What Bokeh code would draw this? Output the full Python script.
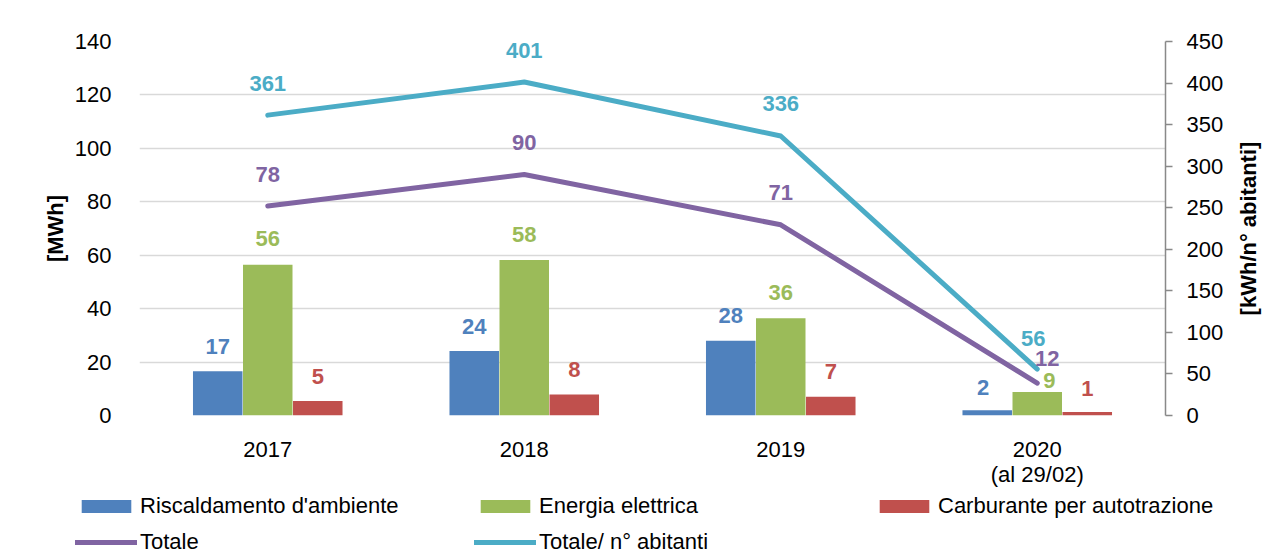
import math
from bokeh.plotting import figure
from bokeh.layouts import row
from bokeh.models import (ColumnDataSource, FactorRange, Range1d, LinearAxis,
                          FixedTicker, Legend, LegendItem, LabelSet, Title)
from bokeh.transform import dodge
from bokeh.core.properties import value
from bokeh.embed import file_html
from bokeh.resources import INLINE

# ---------------- data ----------------
categories = ["2017", "2018", "2019", "2020\n(al 29/02)"]
riscaldamento = [16.6, 24.1, 28.0, 2.0]        # MWh
energia = [56.4, 58.2, 36.4, 8.8]              # MWh
carburante = [5.4, 7.9, 7.0, 1.3]              # MWh
totale = [78.4, 90.2, 71.4, 12.1]              # MWh
totale_abitanti = [361.4, 401.2, 336.3, 55.8]  # kWh / n° abitanti
left_ticks = [0, 20, 40, 60, 80, 100, 120, 140]
right_ticks = [0, 50, 100, 150, 200, 250, 300, 350, 400, 450]

series_names = ["Riscaldamento d'ambiente", "Energia elettrica",
                "Carburante per autotrazione", "Totale", "Totale/ n° abitanti"]
left_title = "[MWh]"
right_title = "[kWh/n° abitanti]"

# ---------------- style ----------------
BLUE, GREEN, RED, PURPLE, CYAN = "#4F81BD", "#9BBB59", "#C0504D", "#8064A2", "#4BACC6"
FONT = "Liberation Sans"
FS = "22px"
BAR_W = 0.193
BAR_STEP = 0.195
W_MAIN, W_SIDE = 1232, 44
H_MAIN = 490

# label offsets (screen px): default above mark, last category adjusted
bar_dx = {"r": [0, 0, 0, -4], "e": [0, 0, 0, 12], "c": [0, 0, 0, 0]}
bar_dy = {"r": [25, 25, 25, 23], "e": [26, 26, 26, 11], "c": [25, 25, 25, 24]}
line_dx = {"t": [0, 0, 0, 10], "a": [0, 0, 0, -4]}
line_dy = {"t": [32, 32, 32, 25], "a": [32, 32, 32, 31]}

fmt = lambda vals: ["{:.0f}".format(v) for v in vals]

src = ColumnDataSource(dict(
    cat=categories, r=riscaldamento, e=energia, c=carburante,
    t=totale, a=totale_abitanti,
    r_txt=fmt(riscaldamento), e_txt=fmt(energia), c_txt=fmt(carburante),
    t_txt=fmt(totale), a_txt=fmt(totale_abitanti),
    r_dx=bar_dx["r"], r_dy=bar_dy["r"], e_dx=bar_dx["e"], e_dy=bar_dy["e"],
    c_dx=bar_dx["c"], c_dy=bar_dy["c"],
    t_dx=line_dx["t"], t_dy=line_dy["t"], a_dx=line_dx["a"], a_dy=line_dy["a"],
))

p = figure(x_range=FactorRange(factors=categories, range_padding=0),
           y_range=Range1d(0, 140),
           width=W_MAIN, height=H_MAIN,
           min_border_left=139, min_border_right=W_MAIN - 1165,
           min_border_top=41, min_border_bottom=75,
           output_backend="svg", toolbar_location=None)
p.outline_line_color = None
p.extra_y_ranges = {"right": Range1d(0, 450)}

# grid
p.xgrid.visible = False
p.ygrid.ticker = FixedTicker(ticks=left_ticks)
p.ygrid.grid_line_color = "#D9D9D9"
p.ygrid.grid_line_width = 1.5

# left axis
ya = p.yaxis[0]
ya.ticker = FixedTicker(ticks=left_ticks)
ya.axis_line_color = None
ya.major_tick_line_color = None
ya.minor_tick_line_color = None
ya.major_label_standoff = 22
ya.major_label_text_font = FONT
ya.major_label_text_font_size = FS
ya.major_label_text_color = "#000000"
ya.axis_label = left_title
ya.axis_label_text_font = FONT
ya.axis_label_text_font_size = FS
ya.axis_label_text_font_style = "bold"
ya.axis_label_text_color = "#000000"
ya.axis_label_standoff = 4

# right axis (its title is drawn in the narrow strip to the right, reading upward)
ra = LinearAxis(y_range_name="right", ticker=FixedTicker(ticks=right_ticks))
ra.axis_line_color = "#898989"
ra.axis_line_width = 1.5
ra.major_tick_line_color = "#898989"
ra.major_tick_line_width = 1.5
ra.major_tick_in = 0
ra.major_tick_out = 7
ra.minor_tick_line_color = None
ra.major_label_standoff = 14
ra.major_label_text_font = FONT
ra.major_label_text_font_size = FS
ra.major_label_text_color = "#000000"
p.add_layout(ra, "right")

# x axis
xa = p.xaxis[0]
xa.axis_line_color = None
xa.major_tick_line_color = None
xa.minor_tick_line_color = None
xa.major_label_standoff = 15
xa.major_label_text_font = FONT
xa.major_label_text_font_size = FS
xa.major_label_text_color = "#000000"
xa.major_label_text_line_height = 1.0

# bars
bar_style = [("r", -BAR_STEP, BLUE), ("e", 0, GREEN), ("c", BAR_STEP, RED)]
for field, off, col in bar_style:
    p.vbar(x=dodge("cat", off, range=p.x_range), top=field, width=BAR_W,
           source=src, fill_color=col, line_color=None)

# lines
p.line(x="cat", y="t", source=src, line_color=PURPLE, line_width=5,
       line_cap="round", line_join="round")
p.line(x="cat", y="a", source=src, line_color=CYAN, line_width=5,
       line_cap="round", line_join="round", y_range_name="right")

# data labels
def add_labels(xfield, yfield, txt, dx, dy, color, yrange="default"):
    ls = LabelSet(x=xfield, y=yfield, text=txt, source=src,
                  x_offset=dx, y_offset=dy, y_range_name=yrange,
                  text_align="center", text_baseline="middle",
                  text_font=value(FONT), text_font_size=FS,
                  text_font_style="bold", text_color=color)
    p.add_layout(ls)

for field, off, col in bar_style:
    add_labels(dodge("cat", off, range=p.x_range), field, field + "_txt",
               field + "_dx", field + "_dy", col)
add_labels("cat", "t", "t_txt", "t_dx", "t_dy", PURPLE)
add_labels("cat", "a", "a_txt", "a_dx", "a_dy", CYAN, "right")

# ---------------- strip to the right: right-axis title, reading upward ----------------
side = figure(width=W_SIDE, height=H_MAIN, x_axis_type=None, y_axis_type=None,
              min_border_left=0, min_border_right=0,
              min_border_top=41, min_border_bottom=75,
              output_backend="svg", toolbar_location=None,
              x_range=Range1d(0, 1), y_range=Range1d(0, 1))
side.outline_line_color = None
side.grid.visible = False
side.add_layout(Title(text=right_title, align="center", text_font=FONT,
                      text_font_size=FS, text_font_style="bold",
                      text_color="#000000", standoff=2, offset=0), "left")

# ---------------- legend strip below the chart (separate root) ----------------
lg = figure(width=W_MAIN + W_SIDE, height=66, x_axis_type=None, y_axis_type=None,
            min_border=0, min_border_left=0, min_border_right=0,
            min_border_top=0, min_border_bottom=0,
            output_backend="svg", toolbar_location=None,
            x_range=Range1d(-3, -2), y_range=Range1d(-3, -2))
lg.outline_line_color = None
lg.grid.visible = False
# same series drawn into an empty viewport: only their legend swatches show
swatches = [lg.vbar(x=field, top=field, width=0.5, source=src,
                    fill_color=col, line_color=None)
            for field, off, col in bar_style]
swatches += [lg.line(x=field, y=field, source=src, line_color=col,
                     line_width=5, line_cap="round")
             for field, col in (("t", PURPLE), ("a", CYAN))]

legend = Legend(items=[LegendItem(label=n, renderers=[r])
                       for n, r in zip(series_names, swatches)],
                ncols=3, orientation="horizontal")
legend.label_text_font = FONT
legend.label_text_font_size = FS
legend.label_text_color = "#000000"
legend.glyph_width = 62
legend.glyph_height = 16
legend.label_standoff = 3
legend.label_width = 324
legend.label_height = 25
legend.spacing = 10
legend.padding = 0
legend.margin = 0
legend.border_line_color = None
legend.background_fill_alpha = 0
legend.location = (75, 1)
lg.add_layout(legend)

open("out.html", "w").write(file_html([row(p, side, spacing=0), lg], INLINE))
